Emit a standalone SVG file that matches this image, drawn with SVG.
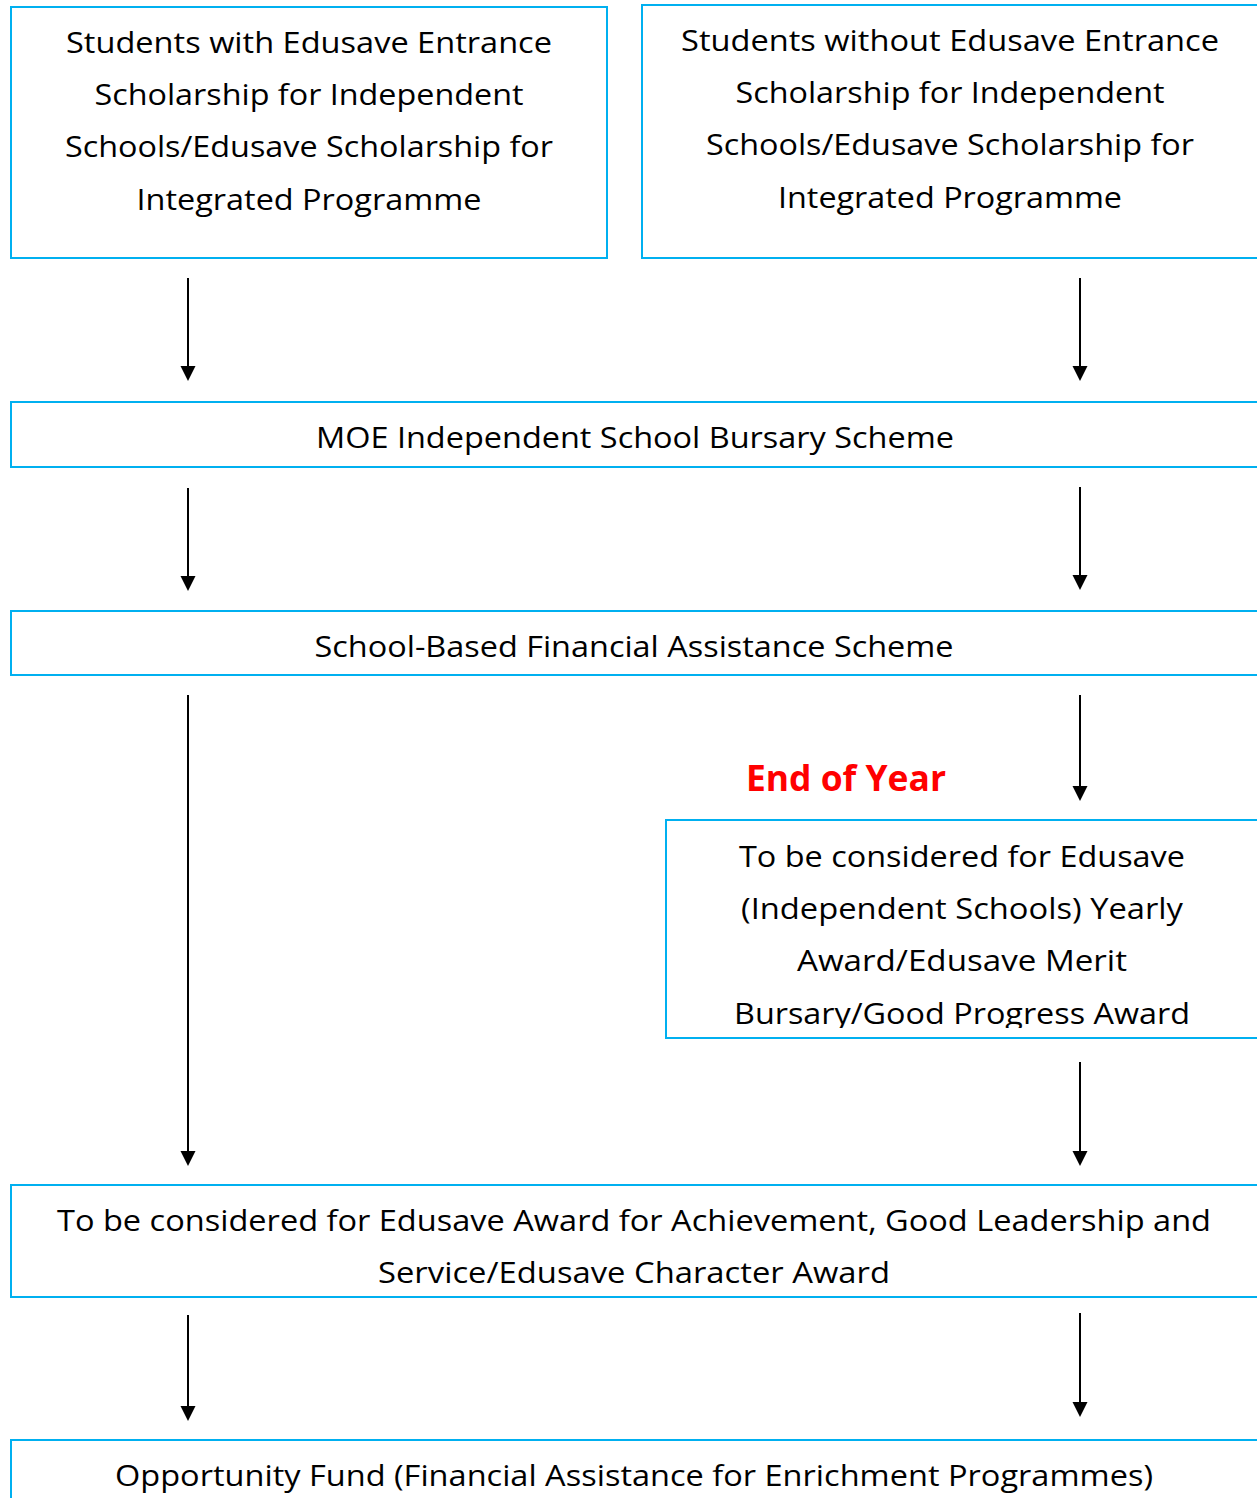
<svg xmlns="http://www.w3.org/2000/svg" width="1257" height="1498" viewBox="0 0 1257 1498">
<style>
.box{fill:#fff;stroke:#00B0F0;stroke-width:2}
.t{font-family:"Open Sans","Noto Sans","Liberation Sans",sans-serif;font-size:29px;fill:#000;text-anchor:middle}
.red{font-family:"Open Sans","Noto Sans","Liberation Sans",sans-serif;font-size:35px;font-weight:bold;fill:#FF0000;text-anchor:middle}
.c{stroke:#000;stroke-width:2;fill:none;marker-end:url(#ah)}
</style>
<defs>
<marker id="ah" markerUnits="userSpaceOnUse" markerWidth="16" markerHeight="16" refX="1" refY="7.5" orient="auto">
<path d="M0,0 L15,7.5 L0,15 z" fill="#000"/>
</marker>
<clipPath id="clip5"><rect x="666" y="820" width="700" height="208"/></clipPath>
</defs>
<rect width="1257" height="1498" fill="#fff"/>
<g id="n1">
<rect class="box" x="11" y="7" width="596" height="251"/>
<text class="t" x="309" y="53" textLength="486" lengthAdjust="spacingAndGlyphs">Students with Edusave Entrance</text>
<text class="t" x="309" y="105" textLength="429" lengthAdjust="spacingAndGlyphs">Scholarship for Independent</text>
<text class="t" x="309" y="157" textLength="488" lengthAdjust="spacingAndGlyphs">Schools/Edusave Scholarship for</text>
<text class="t" x="309" y="210" textLength="345" lengthAdjust="spacingAndGlyphs">Integrated Programme</text>
</g>
<g id="n2">
<rect class="box" x="642" y="5" width="700" height="253"/>
<text class="t" x="950" y="51" textLength="538" lengthAdjust="spacingAndGlyphs">Students without Edusave Entrance</text>
<text class="t" x="950" y="103" textLength="429" lengthAdjust="spacingAndGlyphs">Scholarship for Independent</text>
<text class="t" x="950" y="155" textLength="488" lengthAdjust="spacingAndGlyphs">Schools/Edusave Scholarship for</text>
<text class="t" x="950" y="208" textLength="344" lengthAdjust="spacingAndGlyphs">Integrated Programme</text>
</g>
<g id="n3">
<rect class="box" x="11" y="402" width="1300" height="65"/>
<text class="t" x="635" y="448" textLength="638" lengthAdjust="spacingAndGlyphs">MOE Independent School Bursary Scheme</text>
</g>
<g id="n4">
<rect class="box" x="11" y="611" width="1300" height="64"/>
<text class="t" x="634" y="657" textLength="639" lengthAdjust="spacingAndGlyphs">School-Based Financial Assistance Scheme</text>
</g>
<g id="label">
<text class="red" x="846" y="791" textLength="200" lengthAdjust="spacingAndGlyphs">End of Year</text>
</g>
<g id="n5">
<rect class="box" x="666" y="820" width="700" height="218"/>
<g clip-path="url(#clip5)">
<text class="t" x="962" y="867" textLength="446" lengthAdjust="spacingAndGlyphs">To be considered for Edusave</text>
<text class="t" x="962" y="919" textLength="442" lengthAdjust="spacingAndGlyphs">(Independent Schools) Yearly</text>
<text class="t" x="962" y="971" textLength="330" lengthAdjust="spacingAndGlyphs">Award/Edusave Merit</text>
<text class="t" x="962" y="1024" textLength="456" lengthAdjust="spacingAndGlyphs">Bursary/Good Progress Award</text>
</g>
</g>
<g id="n6">
<rect class="box" x="11" y="1185" width="1300" height="112"/>
<text class="t" x="634" y="1231" textLength="1154" lengthAdjust="spacingAndGlyphs">To be considered for Edusave Award for Achievement, Good Leadership and</text>
<text class="t" x="634" y="1283" textLength="512" lengthAdjust="spacingAndGlyphs">Service/Edusave Character Award</text>
</g>
<g id="n7">
<rect class="box" x="11" y="1440" width="1300" height="100"/>
<text class="t" x="634" y="1486" textLength="1038" lengthAdjust="spacingAndGlyphs">Opportunity Fund (Financial Assistance for Enrichment Programmes)</text>
</g>
<g id="connectors">
<line class="c" x1="188" y1="278" x2="188" y2="367"/>
<line class="c" x1="1080" y1="278" x2="1080" y2="367"/>
<line class="c" x1="188" y1="488" x2="188" y2="577"/>
<line class="c" x1="1080" y1="487" x2="1080" y2="576"/>
<line class="c" x1="188" y1="695" x2="188" y2="1152"/>
<line class="c" x1="1080" y1="695" x2="1080" y2="787"/>
<line class="c" x1="1080" y1="1062" x2="1080" y2="1152"/>
<line class="c" x1="188" y1="1315" x2="188" y2="1407"/>
<line class="c" x1="1080" y1="1313" x2="1080" y2="1403"/>
</g>
</svg>
